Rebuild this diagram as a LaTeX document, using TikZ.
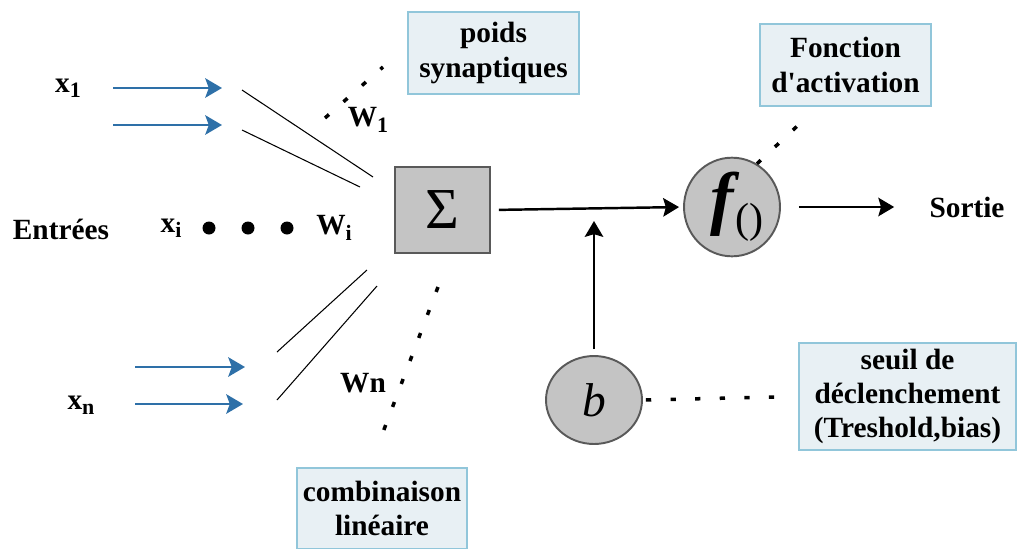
\documentclass[tikz,border=0pt]{standalone}
\usepackage{fontspec}
\setmainfont{Liberation Serif}[Ligatures=TeXOff]
\usetikzlibrary{positioning, shapes.geometric, arrows.meta}
\definecolor{inputblue}{RGB}{46, 112, 168}
\definecolor{notefill}{RGB}{232, 240, 244}
\definecolor{noteline}{RGB}{145, 198, 218}
\definecolor{unitgray}{RGB}{196, 196, 196}
\newcommand{\lowsub}[1]{\raisebox{-0.4ex}{\fontsize{12.5}{12.5}\selectfont #1}}

\begin{document}
\begin{tikzpicture}[
            x=0.02cm, y=-0.02cm,
            every node/.style={inner sep=0pt, font=\fontsize{16.7}{19.5}\selectfont\bfseries},
            note/.style={draw=noteline, fill=notefill, line width=0.8pt, align=center, minimum width=3.42cm, minimum height=1.64cm},
            unit/.style={draw=black!65, fill=unitgray, line width=1.1pt},
            inarrow/.style={-{Stealth[length=9.5pt, width=11pt, inset=2pt]}, line width=1.7pt, inputblue},
            arrow/.style={-{Stealth[length=9pt, width=10.5pt, inset=1.5pt]}, line width=1.4pt},
            wire/.style={line width=0.6pt},
            pointer/.style={line width=2pt, dash pattern=on 3pt off 11pt}
        ]
            \useasboundingbox (0,0) rectangle (1018,548);

            \node (x1) at (68,88) {x\lowsub{1}};
            \node (xi) at (171,228) {x\lowsub{i}};
            \node (xn) at (81,405) {x\lowsub{n}};
            \node (entrees) at (61,229) {Entrées};
            \node (w1) at (368,120) {W\lowsub{1}};
            \node (wi) at (334,228) {W\lowsub{i}};
            \node (wn) at (363,383) {Wn};

            \fill (209,228) circle (0.13cm);
            \fill (248,228) circle (0.13cm);
            \fill (287,228) circle (0.13cm);

            \node[unit, minimum width=1.9cm, minimum height=1.72cm, font=\fontsize{33}{35}\selectfont] (sum) at (442.5,210) {Σ};
            \node[unit, ellipse, minimum width=1.92cm, minimum height=1.74cm] (act) at (732,207) {\kern6pt\fontsize{40}{40}\selectfont\bfseries\itshape f\kern1pt\raisebox{-0.35ex}{\fontsize{24}{24}\selectfont\mdseries\upshape ()}};
            \node[unit, ellipse, minimum width=1.92cm, minimum height=1.76cm, font=\fontsize{27}{27}\selectfont\mdseries\itshape] (bias) at (594,400) {b};
            \node (out) at (967,207) {Sortie};

            \node[note] (poids) at (493.5,53) {poids\\synaptiques};
            \node[note] (fonction) at (845.5,65) {Fonction\\d'activation};
            \node[note, minimum width=4.34cm, minimum height=2.14cm] (seuil) at (907.5,396.5) {seuil de\\déclenchement\\(Treshold,bias)};
            \node[note, minimum width=3.4cm, minimum height=1.62cm] (combi) at (382,508.5) {combinaison\\linéaire};

            \coordinate (a1s) at (113,88);  \coordinate (a1e) at (222,88);
            \coordinate (a2s) at (113,125); \coordinate (a2e) at (222,125);
            \coordinate (a3s) at (135,367); \coordinate (a3e) at (245,367);
            \coordinate (a4s) at (135,404); \coordinate (a4e) at (243,404);
            \draw[inarrow] (a1s) -- (a1e);
            \draw[inarrow] (a2s) -- (a2e);
            \draw[inarrow] (a3s) -- (a3e);
            \draw[inarrow] (a4s) -- (a4e);

            \coordinate (l1s) at (242,90);  \coordinate (l1e) at (373,177);
            \coordinate (l2s) at (242,130); \coordinate (l2e) at (360,187);
            \coordinate (l3s) at (277,352); \coordinate (l3e) at (367,270);
            \coordinate (l4s) at (277,400); \coordinate (l4e) at (377,286);
            \draw[wire] (l1s) -- (l1e);
            \draw[wire] (l2s) -- (l2e);
            \draw[wire] (l3s) -- (l3e);
            \draw[wire] (l4s) -- (l4e);

            \coordinate (p1s) at (325,118); \coordinate (p1e) at (383,67);
            \coordinate (p2s) at (438,287); \coordinate (p2e) at (377,448);
            \coordinate (p3e) at (808,116);
            \draw[pointer] (p1s) -- (p1e);
            \draw[pointer] (p2s) -- (p2e);
            \draw[pointer] (act.60) -- (p3e);
            \draw[pointer, shorten <=0.06cm, shorten >=0.1cm] (bias.east) -- (seuil.west);

            \coordinate (join) at (594,221);
            \draw[arrow, shorten <=0.16cm, shorten >=0.08cm] (sum.east) -- (act.west);
            \draw[arrow, shorten <=0.36cm, shorten >=0.7cm] (act.east) -- (out.west);
            \draw[arrow, shorten <=0.12cm] (bias.north) -- (join);
        \end{tikzpicture}
\end{document}
